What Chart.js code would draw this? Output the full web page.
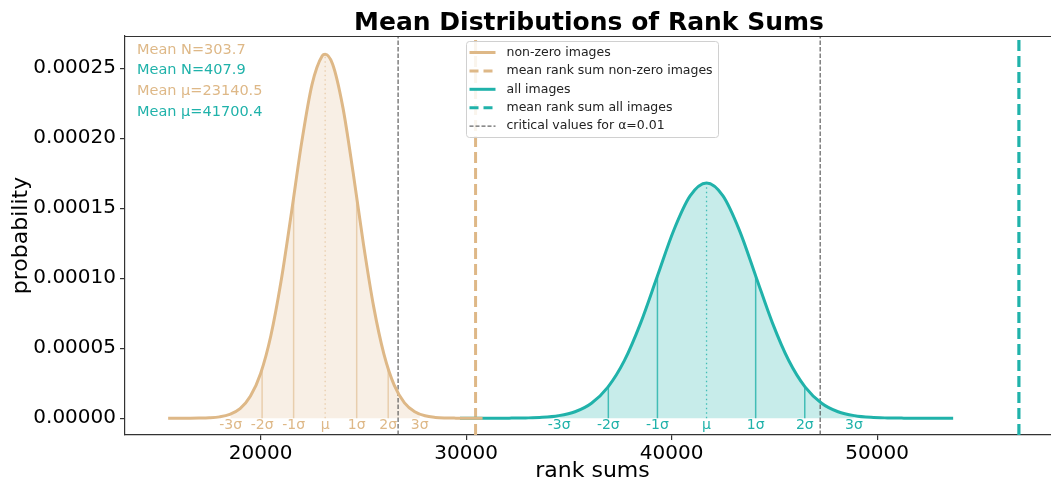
<!DOCTYPE html>
<html lang="en">
<head>
  <meta charset="UTF-8" />
  <title>Mean Distributions of Rank Sums</title>
  <!-- Chart.js CDN -->
  <script src="https://cdn.jsdelivr.net/npm/chart.js"></script>
  <style>
    html, body { margin: 0; padding: 0; background: #fff; overflow: hidden; }
    #wrap { width: 1070px; height: 484px; }
  </style>
</head>
<body>
  <div id="wrap"><canvas id="rankChart" width="1070" height="484"></canvas></div>

  <script>
    // --- data ---

    // non-zero images (tan curve)
    const tanX = [15500, 16000, 16500, 17000, 17500, 18000, 18500, 19000, 19500, 20000, 20500,
      21000, 21500, 22000, 22500, 23000, 23140, 23500, 24000, 24500, 25000, 25500, 26000,
      26500, 27000, 27500, 28000, 28500, 29000, 29500, 30000, 30500, 30800];
    const tanY = [0, 0, 0.00000002, 0.00000009, 0.0000003, 0.00000095, 0.0000027, 0.0000068,
      0.0000156, 0.000032, 0.0000591, 0.0000983, 0.0001468, 0.0001972, 0.0002383, 0.0002589,
      0.00026, 0.000253, 0.0002222, 0.0001756, 0.0001247, 0.0000797, 0.0000458, 0.0000236,
      0.000011, 0.0000046, 0.0000017, 0.00000058, 0.00000018, 0.00000005, 0.00000001, 0, 0];

    // all images (teal curve)
    const tealX = [29700, 30500, 31300, 32100, 32900, 33700, 34500, 35300, 36100, 36900, 37700,
      38500, 39300, 40100, 40900, 41700, 42500, 43300, 44100, 44900, 45700, 46500, 47300,
      48100, 48900, 49700, 50500, 51300, 52100, 52900, 53700];
    const tealY = [0, 0, 0.00000001, 0.00000005, 0.00000019, 0.0000006, 0.0000018, 0.0000046,
      0.0000107, 0.0000222, 0.0000411, 0.0000683, 0.0001012, 0.0001341, 0.0001588, 0.000168,
      0.0001588, 0.0001342, 0.0001013, 0.0000683, 0.0000412, 0.0000222, 0.0000107, 0.0000046,
      0.0000018, 0.0000006, 0.00000019, 0.00000005, 0.00000001, 0, 0];

    // sigma markers: labels, positions, heights of the small vertical lines
    const sigmaLabels = ['-3σ', '-2σ', '-1σ', 'μ', '1σ', '2σ', '3σ'];
    const tanSigmaX = [18538, 20072, 21606, 23140, 24674, 26208, 27742];
    const tanSigmaH = [0, 0.0000352, 0.0001577, 0.00026, 0.0001577, 0.0000352, 0];
    const tealSigmaX = [34530, 36920, 39310, 41700, 44090, 46480, 48870];
    const tealSigmaH = [0, 0.0000227, 0.0001019, 0.000168, 0.0001019, 0.0000227, 0];

    // vertical lines
    const tanMeanRank = 30460;
    const allMeanRank = 56900;
    const criticalValues = [26690, 47230];

    // text box top left
    const infoLines = ['Mean N=303.7', 'Mean N=407.9', 'Mean μ=23140.5', 'Mean μ=41700.4'];

    const xTicks = [20000, 30000, 40000, 50000];
    const yTicks = [0, 0.00005, 0.0001, 0.00015, 0.0002, 0.00025];
    const xMin = 13400, xMax = 58900;
    const yMin = -0.000012, yMax = 0.000273;

    const tanColor = '#deb887';   // burlywood
    const tealColor = '#20b2aa';  // lightseagreen
    const FONT = '"DejaVu Sans", sans-serif';

    const toPoints = (xs, ys) => xs.map((x, i) => ({ x: x, y: ys[i] }));
    const vline = v => [{ x: v, y: yMin }, { x: v, y: yMax }];

    // fills between -3σ and +3σ plus the sigma lines, drawn under the curves
    const sigmaPlugin = {
      id: 'sigmaPlugin',
      beforeDatasetsDraw(chart) {
        const ctx = chart.ctx;
        const xs = chart.scales.x, ys = chart.scales.y;
        const area = chart.chartArea;
        const y0 = ys.getPixelForValue(0);
        const groups = [
          { idx: 0, sx: tanSigmaX, sh: tanSigmaH, fill: 'rgba(222,184,135,0.22)', line: 'rgba(222,184,135,0.6)' },
          { idx: 1, sx: tealSigmaX, sh: tealSigmaH, fill: 'rgba(32,178,170,0.25)', line: 'rgba(32,178,170,0.8)' }
        ];
        groups.forEach(g => {
          const meta = chart.getDatasetMeta(g.idx);
          if (meta.dataset && meta.dataset.updateControlPoints) meta.dataset.updateControlPoints(area);
          const pts = meta.data;
          const lo = xs.getPixelForValue(g.sx[0]);
          const hi = xs.getPixelForValue(g.sx[g.sx.length - 1]);
          ctx.save();
          ctx.beginPath();
          ctx.rect(lo, area.top, hi - lo, area.bottom - area.top);
          ctx.clip();
          ctx.beginPath();
          ctx.moveTo(pts[0].x, y0);
          ctx.lineTo(pts[0].x, pts[0].y);
          for (let i = 1; i < pts.length; i++) {
            const p = pts[i - 1], c = pts[i];
            if (p.cp2x !== undefined && c.cp1x !== undefined) {
              ctx.bezierCurveTo(p.cp2x, p.cp2y, c.cp1x, c.cp1y, c.x, c.y);
            } else {
              ctx.lineTo(c.x, c.y);
            }
          }
          ctx.lineTo(pts[pts.length - 1].x, y0);
          ctx.closePath();
          ctx.fillStyle = g.fill;
          ctx.fill();
          ctx.restore();

          // sigma lines (μ dotted)
          ctx.save();
          ctx.strokeStyle = g.line;
          for (let k = 1; k < g.sx.length - 1; k++) {
            const px = xs.getPixelForValue(g.sx[k]);
            ctx.beginPath();
            if (sigmaLabels[k] === 'μ') {
              ctx.setLineDash([1.5, 3]);
              ctx.lineWidth = 1.3;
            } else {
              ctx.setLineDash([]);
              ctx.lineWidth = 1.5;
            }
            ctx.moveTo(px, y0);
            ctx.lineTo(px, ys.getPixelForValue(g.sh[k]));
            ctx.stroke();
          }
          ctx.restore();
        });
      },
      afterDatasetsDraw(chart) {
        const ctx = chart.ctx;
        const xs = chart.scales.x, ys = chart.scales.y;
        const y0 = ys.getPixelForValue(0);
        ctx.save();
        ctx.font = '14px ' + FONT;
        ctx.textAlign = 'center';
        ctx.textBaseline = 'middle';
        [[tanSigmaX, tanColor], [tealSigmaX, tealColor]].forEach(([sx, col]) => {
          ctx.fillStyle = col;
          sx.forEach((v, k) => ctx.fillText(sigmaLabels[k], xs.getPixelForValue(v), y0 + 7));
        });
        ctx.restore();
      }
    };

    // title, top spine, text box and legend
    const decorPlugin = {
      id: 'decorPlugin',
      afterDraw(chart) {
        const ctx = chart.ctx;
        const area = chart.chartArea;
        ctx.save();

        // top spine
        ctx.strokeStyle = '#333';
        ctx.lineWidth = 1.2;
        ctx.beginPath();
        ctx.moveTo(area.left, area.top + 0.5);
        ctx.lineTo(area.right, area.top + 0.5);
        ctx.stroke();

        // title
        ctx.fillStyle = '#000';
        ctx.font = 'bold 25px ' + FONT;
        ctx.textAlign = 'center';
        ctx.textBaseline = 'alphabetic';
        ctx.fillText('Mean Distributions of Rank Sums', 589, 30);

        // info text
        ctx.font = '14.5px ' + FONT;
        ctx.textAlign = 'left';
        ctx.textBaseline = 'middle';
        infoLines.forEach((t, i) => {
          ctx.fillStyle = i % 2 === 0 ? tanColor : tealColor;
          ctx.fillText(t, area.left + 12, area.top + 14 + i * 20.7);
        });

        // legend
        const items = [
          { label: 'non-zero images', color: tanColor, dash: [], width: 3 },
          { label: 'mean rank sum non-zero images', color: tanColor, dash: [9, 5], width: 3 },
          { label: 'all images', color: tealColor, dash: [], width: 3 },
          { label: 'mean rank sum all images', color: tealColor, dash: [9, 5], width: 3 },
          { label: 'critical values for α=0.01', color: '#666', dash: [4, 2], width: 1.3 }
        ];
        const lx = 466.5, ly = 41.5, lw = 252, lh = 96;
        ctx.beginPath();
        ctx.roundRect(lx, ly, lw, lh, 3);
        ctx.fillStyle = 'rgba(255,255,255,0.85)';
        ctx.fill();
        ctx.strokeStyle = '#d0d0d0';
        ctx.lineWidth = 1;
        ctx.stroke();
        ctx.font = '12.5px ' + FONT;
        items.forEach((it, i) => {
          const y = ly + 11 + i * 18.4;
          ctx.beginPath();
          ctx.setLineDash(it.dash);
          ctx.strokeStyle = it.color;
          ctx.lineWidth = it.width;
          ctx.moveTo(lx + 3, y);
          ctx.lineTo(lx + 29, y);
          ctx.stroke();
          ctx.setLineDash([]);
          ctx.fillStyle = '#222';
          ctx.fillText(it.label, lx + 40, y);
        });
        ctx.restore();
      }
    };

    const ctx = document.getElementById('rankChart').getContext('2d');
    new Chart(ctx, {
      type: 'line',
      data: {
        datasets: [
          {
            label: 'non-zero images',
            data: toPoints(tanX, tanY),
            borderColor: tanColor,
            borderWidth: 3,
            cubicInterpolationMode: 'monotone',
            pointRadius: 0,
            fill: false
          },
          {
            label: 'all images',
            data: toPoints(tealX, tealY),
            borderColor: tealColor,
            borderWidth: 3,
            cubicInterpolationMode: 'monotone',
            pointRadius: 0,
            fill: false
          },
          {
            label: 'mean rank sum non-zero images',
            data: vline(tanMeanRank),
            borderColor: tanColor,
            borderWidth: 3,
            borderDash: [11, 5],
            pointRadius: 0
          },
          {
            label: 'mean rank sum all images',
            data: vline(allMeanRank),
            borderColor: tealColor,
            borderWidth: 3.2,
            borderDash: [11, 5],
            pointRadius: 0
          },
          {
            label: 'critical low',
            data: vline(criticalValues[0]),
            borderColor: 'rgba(70,70,70,0.8)',
            borderWidth: 1.3,
            borderDash: [4.5, 2],
            pointRadius: 0
          },
          {
            label: 'critical high',
            data: vline(criticalValues[1]),
            borderColor: 'rgba(70,70,70,0.8)',
            borderWidth: 1.3,
            borderDash: [4.5, 2],
            pointRadius: 0
          }
        ]
      },
      options: {
        responsive: false,
        animation: false,
        devicePixelRatio: 1,
        layout: { padding: { left: 0, top: 36, right: 10, bottom: 0 }, autoPadding: false },
        plugins: {
          legend: { display: false },
          title: { display: false },
          tooltip: { enabled: false }
        },
        scales: {
          x: {
            type: 'linear',
            min: xMin,
            max: xMax,
            afterFit: s => { s.height = 49; },
            afterBuildTicks: s => { s.ticks = xTicks.map(v => ({ value: v })); },
            ticks: {
              color: '#000',
              font: { family: FONT, size: 20 },
              padding: 2,
              maxRotation: 0,
              callback: v => String(v)
            },
            grid: { drawOnChartArea: false, drawTicks: true, tickLength: 5, color: '#333', lineWidth: 1.2 },
            border: { display: true, color: '#333', width: 1.2 },
            title: {
              display: true,
              text: 'rank sums',
              color: '#000',
              font: { family: FONT, size: 22 },
              padding: { top: 0, bottom: 0 }
            }
          },
          y: {
            type: 'linear',
            min: yMin,
            max: yMax,
            afterFit: s => { s.width = 125; },
            afterBuildTicks: s => { s.ticks = yTicks.map(v => ({ value: v })); },
            ticks: {
              color: '#000',
              font: { family: FONT, size: 20 },
              padding: 4,
              callback: v => v.toFixed(5)
            },
            grid: { drawOnChartArea: false, drawTicks: true, tickLength: 5, color: '#333', lineWidth: 1.2 },
            border: { display: true, color: '#333', width: 1.2 },
            title: {
              display: true,
              text: 'probability',
              color: '#000',
              font: { family: FONT, size: 22 },
              padding: { top: 8, bottom: 0 }
            }
          }
        }
      },
      plugins: [sigmaPlugin, decorPlugin]
    });
  </script>
</body>
</html>
